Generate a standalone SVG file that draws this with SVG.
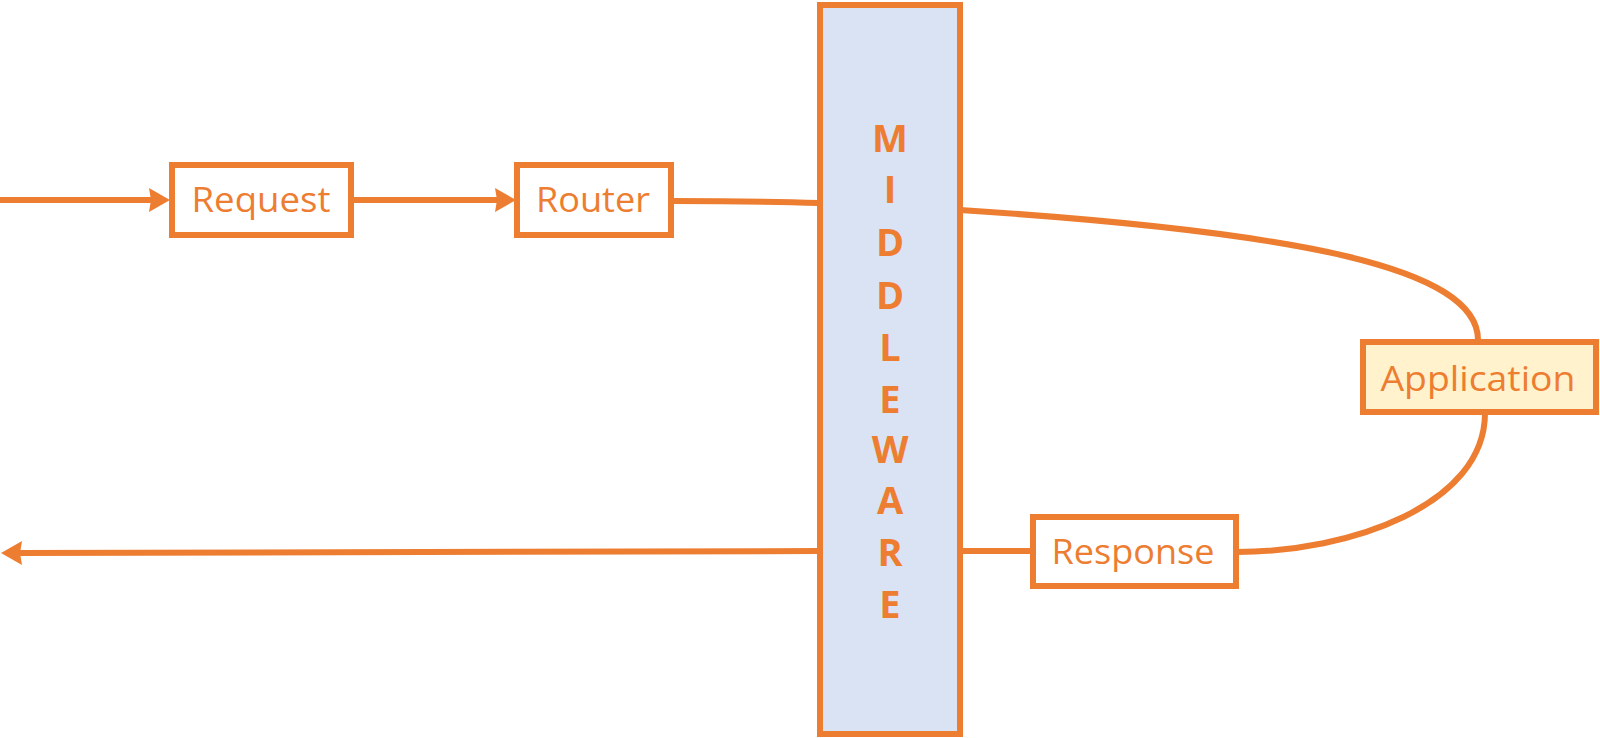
<svg xmlns="http://www.w3.org/2000/svg" width="1600" height="738" viewBox="0 0 1600 738">
<style>
.box{stroke:#ED7D31;stroke-width:6;}
.lbl{font-family:"Open Sans","Noto Sans",sans-serif;font-size:34px;fill:#ED7D31;text-anchor:middle;}
.mw{font-family:"Open Sans","Noto Sans",sans-serif;font-size:38px;font-weight:bold;fill:#ED7D31;text-anchor:middle;}
.con{fill:none;stroke:#ED7D31;stroke-width:6;}
.head{fill:#ED7D31;stroke:none;}
</style>
<defs>
<path id="ah" class="head" d="M-21,-12 L0,0 L-21,12 L-19,0 z"/>
</defs>
<g id="connectors">
<path class="con" d="M0 200 L152 200"/>
<use href="#ah" x="170" y="200"/>
<path class="con" d="M352 200 L498 200"/>
<use href="#ah" x="516" y="200"/>
<path class="con" d="M672 201 C740 201 790 202 819 203"/>
<path class="con" d="M960 210 C1300 232 1478 268 1478 340"/>
<path class="con" d="M1485 413 C1485 505 1350 552 1237 552"/>
<path class="con" d="M960 551 L1031 551"/>
<path class="con" d="M819 551 L18 553"/>
<use href="#ah" transform="translate(1 553) rotate(180)"/>
</g>
<g id="middleware">
<rect class="box" x="820" y="5" width="140" height="729" fill="#DAE3F3"/>
<text class="mw" x="890" y="152">M</text>
<text class="mw" x="890" y="203">I</text>
<text class="mw" x="890" y="256">D</text>
<text class="mw" x="890" y="309">D</text>
<text class="mw" x="890" y="361">L</text>
<text class="mw" x="890" y="413">E</text>
<text class="mw" x="890" y="463">W</text>
<text class="mw" x="890" y="514">A</text>
<text class="mw" x="890" y="566">R</text>
<text class="mw" x="890" y="618">E</text>
</g>
<g id="request">
<rect class="box" x="172" y="165" width="179" height="70" fill="#FFFFFF"/>
<text class="lbl" x="261" y="212" textLength="139" lengthAdjust="spacingAndGlyphs">Request</text>
</g>
<g id="router">
<rect class="box" x="517" y="165" width="154" height="70" fill="#FFFFFF"/>
<text class="lbl" x="593" y="212" textLength="114" lengthAdjust="spacingAndGlyphs">Router</text>
</g>
<g id="application">
<rect class="box" x="1363" y="342" width="233" height="70" fill="#FFF2CC"/>
<text class="lbl" x="1478" y="391" textLength="195" lengthAdjust="spacingAndGlyphs">Application</text>
</g>
<g id="response">
<rect class="box" x="1033" y="517" width="203" height="69" fill="#FFFFFF"/>
<text class="lbl" x="1133" y="564" textLength="163" lengthAdjust="spacingAndGlyphs">Response</text>
</g>
</svg>
